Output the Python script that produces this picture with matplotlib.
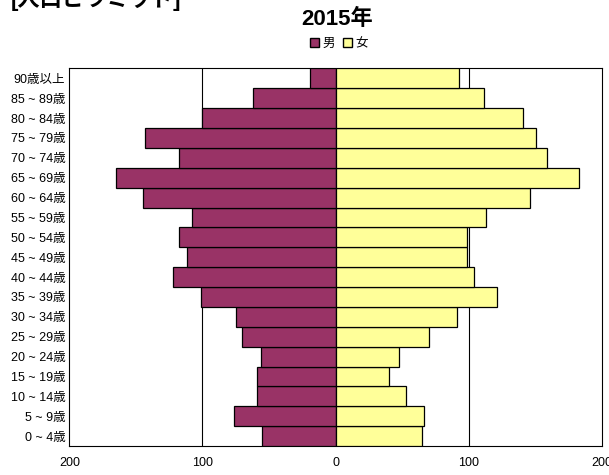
import matplotlib
matplotlib.use("Agg")
import matplotlib.pyplot as plt
from matplotlib.patches import Patch

plt.rcParams['font.family'] = ['Liberation Sans', 'Noto Sans CJK JP', 'DejaVu Sans']

# ---- data (bottom to top) ----
ages = ["0 ~ 4歳", "5 ~ 9歳", "10 ~ 14歳", "15 ~ 19歳", "20 ~ 24歳",
        "25 ~ 29歳", "30 ~ 34歳", "35 ~ 39歳", "40 ~ 44歳", "45 ~ 49歳",
        "50 ~ 54歳", "55 ~ 59歳", "60 ~ 64歳", "65 ~ 69歳", "70 ~ 74歳",
        "75 ~ 79歳", "80 ~ 84歳", "85 ~ 89歳", "90歳以上"]

male = [55, 76, 59, 59, 56, 70, 75, 101, 122, 112,
        118, 108, 145, 165, 118, 143, 100, 62, 19]
female = [65, 66.5, 53, 40.5, 47.5, 70, 91, 121.5, 104, 99,
          99, 113, 146, 183, 159, 151, 141, 111.5, 93]

x_ticks = [-200, -100, 0, 100, 200]
x_labels = ["200", "100", "0", "100", "200"]

male_color = "#993366"
female_color = "#FFFF99"

fig = plt.figure(figsize=(6.09, 4.75), dpi=100)
ax = fig.add_axes([0.114, 0.061, 0.874, 0.795])

pos = list(range(len(ages)))

ax.barh(pos, [-m for m in male], height=1.0, color=male_color,
        edgecolor="black", linewidth=0.9, zorder=3)
ax.barh(pos, female, height=1.0, color=female_color,
        edgecolor="black", linewidth=0.9, zorder=3)

# vertical gridlines
for v in [-100, 100]:
    ax.axvline(v, color="black", linewidth=0.8, zorder=1)

ax.set_xlim(-200, 200)
ax.set_ylim(-0.5, len(ages) - 0.5)

ax.set_xticks(x_ticks)
ax.set_xticklabels(x_labels, fontsize=9)
ax.set_yticks(pos)
ax.set_yticklabels(ages, fontsize=9)
ax.tick_params(length=0, pad=3)
ax.tick_params(axis="x", pad=8)

for s in ax.spines.values():
    s.set_color("black")
    s.set_linewidth(0.8)

# title and legend
fig.text(0.554, 0.960, "2015年", ha="center", va="center",
         fontsize=16, fontweight="bold")

handles = [Patch(facecolor=male_color, edgecolor="black", label="男"),
           Patch(facecolor=female_color, edgecolor="black", label="女")]
fig.legend(handles=handles, loc="center", bbox_to_anchor=(0.557, 0.907),
           ncol=2, frameon=False, fontsize=9, handlelength=0.7,
           handleheight=0.7, handletextpad=0.3, columnspacing=0.6)

# header cut off at the top
fig.text(0.017, 0.988, "[人口ピラミッド]", ha="left", va="baseline",
         fontsize=16, fontweight="bold")

fig.savefig("out.png", dpi=100)
